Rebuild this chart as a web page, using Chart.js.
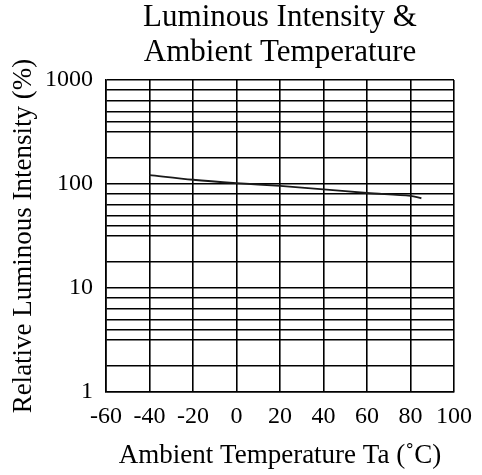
<!DOCTYPE html>
<html>
<head>
<meta charset="utf-8">
<script src="https://cdn.jsdelivr.net/npm/chart.js@4/dist/chart.umd.min.js"></script>
<style>
  html, body { margin: 0; padding: 0; background: #ffffff; }
  #wrap { width: 482px; height: 475px; }
</style>
</head>
<body>
<div id="wrap"><canvas id="chart"></canvas></div>
<script>
// values
const temperatures = [-40, -20, 0, 20, 40, 60, 80, 85];
const relIntensity = [122, 110, 102, 96, 89, 82, 77, 73];

// grid lines as drawn in the original (one set per decade)
const decades = [1, 10, 100];
const gridSteps = [1, 1.8, 3.2, 4, 5, 6.3, 8];
const yLabels = [1, 10, 100, 1000];

const serif = "'Liberation Serif', 'DejaVu Serif', serif";

const ctx = document.getElementById('chart').getContext('2d');

new Chart(ctx, {
    type: 'line',
    data: {
        datasets: [
            {
                data: temperatures.map((t, i) => ({ x: t, y: relIntensity[i] })),
                borderColor: '#1a1a1a',
                borderWidth: 1.8,
                pointRadius: 0,
                tension: 0.3,
                fill: false,
            },
        ],
    },
    options: {
        responsive: true,
        maintainAspectRatio: false,
        animation: false,
        layout: { padding: { top: 0, right: 25, bottom: 0, left: 0 } },
        plugins: {
            legend: { display: false },
            tooltip: { enabled: false },
            title: {
                display: true,
                fullSize: false,
                text: ['Luminous Intensity &', 'Ambient Temperature'],
                color: '#000000',
                font: { family: serif, size: 31, weight: 'normal', lineHeight: 1.13 },
                padding: { top: 0, bottom: 10 },
            },
        },
        scales: {
            x: {
                type: 'linear',
                min: -60,
                max: 100,
                ticks: {
                    stepSize: 20,
                    autoSkip: false,
                    minRotation: 0,
                    maxRotation: 0,
                    color: '#000000',
                    padding: 10,
                    font: { family: serif, size: 24 },
                },
                grid: { color: '#000000', lineWidth: 1.6, drawTicks: false },
                border: { color: '#000000', width: 1.6 },
                title: {
                    display: true,
                    text: 'Ambient Temperature Ta (˚C)',
                    color: '#000000',
                    font: { family: serif, size: 27 },
                    padding: { top: 0, bottom: 3 },
                },
                afterFit: (scale) => { scale.height = 83; },
            },
            y: {
                type: 'logarithmic',
                min: 1,
                max: 1000,
                afterBuildTicks: (scale) => {
                    const ticks = [];
                    decades.forEach((d) => gridSteps.forEach((s) => ticks.push({ value: d * s })));
                    ticks.push({ value: 1000 });
                    scale.ticks = ticks;
                },
                ticks: {
                    autoSkip: false,
                    color: '#000000',
                    padding: 13,
                    font: { family: serif, size: 24 },
                    callback: (v) => (yLabels.includes(v) ? String(v) : ''),
                },
                grid: { color: '#000000', lineWidth: 1.6, drawTicks: false },
                border: { color: '#000000', width: 1.6 },
                title: {
                    display: true,
                    text: 'Relative Luminous Intensity (%)',
                    color: '#000000',
                    font: { family: serif, size: 27 },
                    padding: { top: 8, bottom: 0 },
                },
                afterFit: (scale) => { scale.width = 106; },
            },
        },
    },
});
</script>
</body>
</html>
